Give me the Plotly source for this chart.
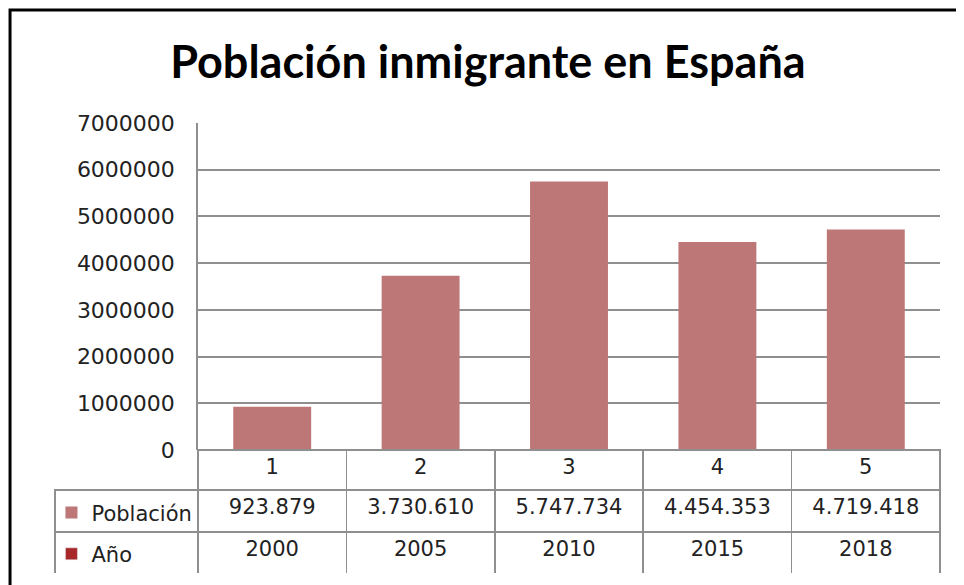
import plotly.graph_objects as go

# datos del gráfico
categorias = ["1", "2", "3", "4", "5"]
poblacion = [923879, 3730610, 5747734, 4454353, 4719418]
anios = [2000, 2005, 2010, 2015, 2018]
series = ["Población", "Año"]
colores = ["#BD7776", "#A8282A"]

GRID = "#8F8F8F"
FONT = "DejaVu Sans"
FS = 21


def fmt_miles(v):
    # 923879 -> 923.879
    return f"{v:,}".replace(",", ".")


fig = go.Figure()

fig.add_trace(go.Bar(
    x=categorias,
    y=poblacion,
    name=series[0],
    legendgroup="a",
    marker=dict(color=colores[0], line=dict(width=0)),
    width=0.525,
    hoverinfo="x+y",
))
# la fila "Año" solo aparece en la tabla: traza vacía para la clave de leyenda
fig.add_trace(go.Bar(
    x=[None], y=[None],
    name=series[1],
    legendgroup="b",
    marker=dict(color=colores[1]),
))

# tabla de datos bajo el gráfico (como en Excel)
n = len(categorias)
cells = [["", ""]] + [[fmt_miles(p), str(a)] for p, a in zip(poblacion, anios)]

fig.add_trace(go.Table(
    domain=dict(x=[0, 1], y=[0, 0.2749]),
    columnwidth=[143] + [148.4] * n,
    header=dict(
        values=[""] + categorias,
        height=40,
        align="center",
        fill=dict(color=["rgba(0,0,0,0)"] + ["white"] * n),
        line=dict(color=["rgba(0,0,0,0)"] + [GRID] * n, width=1.5),
        font=dict(family=FONT, size=FS, color="#222"),
    ),
    cells=dict(
        values=cells,
        height=42,
        align="center",
        fill=dict(color="white"),
        line=dict(color=GRID, width=1.5),
        font=dict(family=FONT, size=FS, color="#222"),
    ),
))

# el navegador deja 8px de margen en el body: la figura se ajusta a eso
fig.update_layout(
    width=956, height=577,
    margin=dict(l=47, r=24, t=115, b=11),
    paper_bgcolor="white",
    plot_bgcolor="white",
    showlegend=True,
    legend=dict(
        x=-0.004, xanchor="left",
        y=0.181, yanchor="top",
        traceorder="grouped",
        tracegroupgap=11,
        bgcolor="rgba(0,0,0,0)",
        borderwidth=0,
        font=dict(family=FONT, size=FS, color="#222"),
    ),
    bargap=0.475,
    title=dict(
        text="<b>Población inmigrante en España</b>",
        x=0.502, xref="container", xanchor="center",
        y=0.906, yref="container", yanchor="middle",
        font=dict(family="Lato", size=45, color="black"),
    ),
    xaxis=dict(
        domain=[0.1616, 1],
        showticklabels=False,
        showgrid=False,
        showline=False,
        zeroline=False,
        automargin=False,
        fixedrange=True,
    ),
    yaxis=dict(
        domain=[0.2749, 1],
        range=[0, 7000000],
        dtick=1000000,
        tickformat="d",
        showgrid=True,
        gridcolor=GRID,
        gridwidth=1.5,
        showline=True,
        linecolor=GRID,
        linewidth=1.5,
        zeroline=False,
        ticks="",
        automargin=False,
        ticklabelstandoff=17,
        tickfont=dict(family=FONT, size=22, color="#222"),
    ),
    shapes=[dict(
        type="rect", xref="paper", yref="paper",
        x0=-0.0508, x1=1.04, y0=-0.06, y1=1.2506,
        line=dict(color="black", width=3),
        fillcolor="rgba(0,0,0,0)",
        layer="above",
    )],
)

fig.write_html("out.html")
